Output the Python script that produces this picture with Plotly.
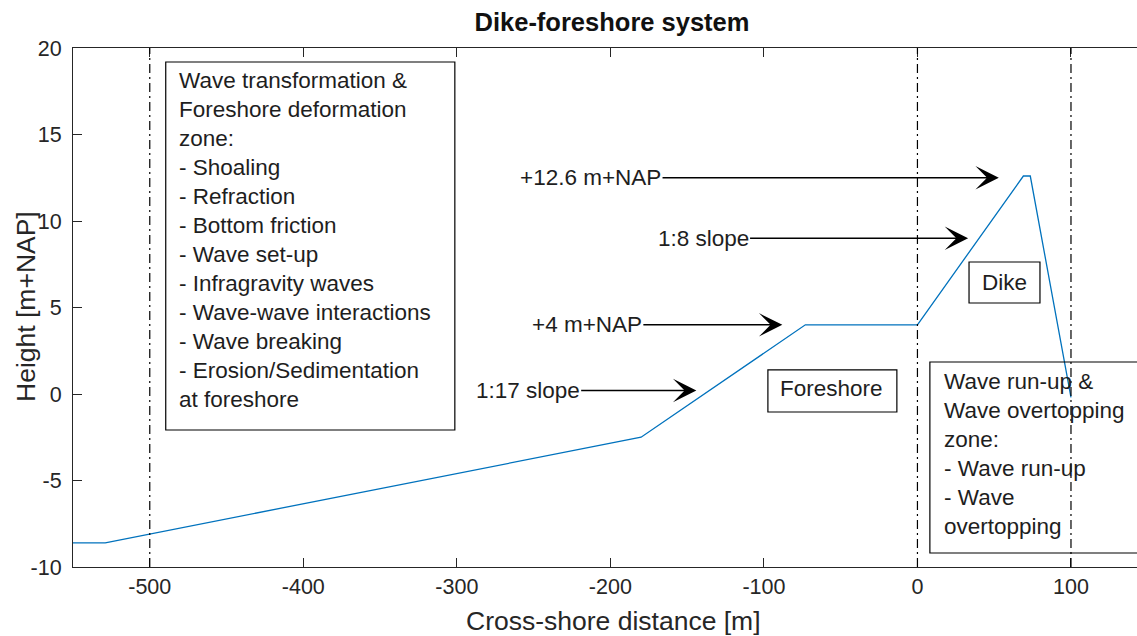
import plotly.graph_objects as go

# ---- data ----
profile_x = [-550, -529, -180, -73, 0, 69, 73.5, 100]
profile_y = [-8.6, -8.6, -2.5, 4, 4, 12.6, 12.6, -0.2]

boundary_x = [-500, 0, 100]

left_box_lines = [
    "Wave transformation &",
    "Foreshore deformation",
    "zone:",
    "- Shoaling",
    "- Refraction",
    "- Bottom friction",
    "- Wave set-up",
    "- Infragravity waves",
    "- Wave-wave interactions",
    "- Wave breaking",
    "- Erosion/Sedimentation",
    "at foreshore",
]
right_box_lines = [
    "Wave run-up &",
    "Wave overtopping",
    "zone:",
    "- Wave run-up",
    "- Wave",
    "overtopping",
]
arrow_labels = ["+12.6 m+NAP", "1:8 slope", "+4 m+NAP", "1:17 slope"]
arrow_tail_x = [-167, -110, -179.5, -220]
arrow_head_x = [53, 33, -88, -144]
arrow_y = [12.5, 9, 4, 0.2]

x_ticks = [-500, -400, -300, -200, -100, 0, 100]
x_tick_text = ["-500", "-400", "-300", "-200", "-100", "0", "100"]
y_ticks = [-10, -5, 0, 5, 10, 15, 20]
y_tick_text = ["-10", "-5", "0", "5", "10", "15", "20"]

FONT = "Liberation Sans, Arial, Helvetica, sans-serif"
AX = "#262626"
TXT = "#1e1e1e"
FS = 22.5

fig = go.Figure()
fig.add_trace(go.Scatter(x=profile_x, y=profile_y, mode="lines",
                         line=dict(color="#0072BD", width=1.3),
                         showlegend=False, hoverinfo="skip"))

shapes = []
for bx in boundary_x:
    shapes.append(dict(type="line", xref="x", yref="y", x0=bx, x1=bx, y0=-10, y1=20,
                       line=dict(color="black", width=1.2, dash="9px,4px,2px,4px")))

shapes.append(dict(type="rect", xref="x", yref="y", x0=-489.6, x1=-301.3, y0=-2.08, y1=19.19,
                   line=dict(color="black", width=1.2), fillcolor="white", layer="above"))
shapes.append(dict(type="rect", xref="x", yref="y", x0=-97.4, x1=-13.4, y0=-1.04, y1=1.39,
                   line=dict(color="black", width=1.2), fillcolor="rgba(0,0,0,0)"))
shapes.append(dict(type="rect", xref="x", yref="y", x0=33.6, x1=79.8, y0=5.26, y1=7.63,
                   line=dict(color="black", width=1.2), fillcolor="rgba(0,0,0,0)"))
shapes.append(dict(type="rect", xref="x", yref="y", x0=8.1, x1=200, y0=-9.19, y1=1.85,
                   line=dict(color="black", width=1.2), fillcolor="rgba(0,0,0,0)"))

annotations = []
px_per_y = 519 / 30.0
for i, t in enumerate(left_box_lines):
    ypx = 80.5 + 29 * i
    annotations.append(dict(x=-482.5, y=(394 - ypx) / px_per_y, xref="x", yref="y",
                            text=t, showarrow=False, xanchor="left", yanchor="middle",
                            font=dict(family=FONT, size=FS, color=TXT)))
for i, t in enumerate(right_box_lines):
    ypx = 381 + 29 * i
    annotations.append(dict(x=16.0, y=(394 - ypx) / px_per_y, xref="x", yref="y",
                            text=t, showarrow=False, xanchor="left", yanchor="middle",
                            font=dict(family=FONT, size=FS, color=TXT)))
annotations.append(dict(x=-55.7, y=0.29, xref="x", yref="y", text="Foreshore", showarrow=False,
                        xanchor="center", yanchor="middle", font=dict(family=FONT, size=FS, color=TXT)))
annotations.append(dict(x=56.4, y=6.47, xref="x", yref="y", text="Dike", showarrow=False,
                        xanchor="center", yanchor="middle", font=dict(family=FONT, size=FS, color=TXT)))

for lab, tx, hx, ay in zip(arrow_labels, arrow_tail_x, arrow_head_x, arrow_y):
    annotations.append(dict(x=hx, y=ay, ax=tx, ay=ay, xref="x", yref="y", axref="x", ayref="y",
                            text="", showarrow=True, arrowhead=3, arrowsize=2.6, arrowwidth=1.5,
                            arrowcolor="black"))
    annotations.append(dict(x=tx, y=ay, xref="x", yref="y", text=lab, showarrow=False,
                            xanchor="right", yanchor="middle", xshift=2,
                            font=dict(family=FONT, size=FS, color=TXT)))

# axis titles
annotations.append(dict(x=(613 - 73) / 1064, y=(567 - 621) / 519, xref="paper", yref="paper",
                        text="Cross-shore distance [m]", showarrow=False,
                        xanchor="center", yanchor="middle",
                        font=dict(family=FONT, size=26.5, color=AX)))
annotations.append(dict(x=(26 - 73) / 1064, y=(567 - 307) / 519, xref="paper", yref="paper",
                        text="Height [m+NAP]", showarrow=False, textangle=-90,
                        xanchor="center", yanchor="middle",
                        font=dict(family=FONT, size=26.5, color=AX)))

fig.update_layout(
    width=1137, height=636,
    margin=dict(l=73, r=0, t=48, b=69),
    paper_bgcolor="white", plot_bgcolor="white",
    shapes=shapes, annotations=annotations,
    title=dict(text="<b>Dike-foreshore system</b>", x=612 / 1137, xref="container", xanchor="center",
               y=1 - 22 / 636, yref="container", yanchor="middle",
               font=dict(family=FONT, size=25.5, color="#111")),
    xaxis=dict(range=[-550, 143.0], tickvals=x_ticks, ticktext=x_tick_text,
               ticks="inside", ticklen=9, tickwidth=1,
               tickcolor=AX, showline=True, linecolor=AX, linewidth=1.2, mirror="ticks",
               showgrid=False, zeroline=False,
               tickfont=dict(family=FONT, size=21.5, color=AX)),
    yaxis=dict(range=[-10, 20], tickvals=y_ticks, ticktext=y_tick_text,
               ticks="inside", ticklen=9, tickwidth=1, ticklabelstandoff=6,
               tickcolor=AX, showline=True, linecolor=AX, linewidth=1.2,
               showgrid=False, zeroline=False,
               tickfont=dict(family=FONT, size=21.5, color=AX)),
)

fig.write_html("out.html")
